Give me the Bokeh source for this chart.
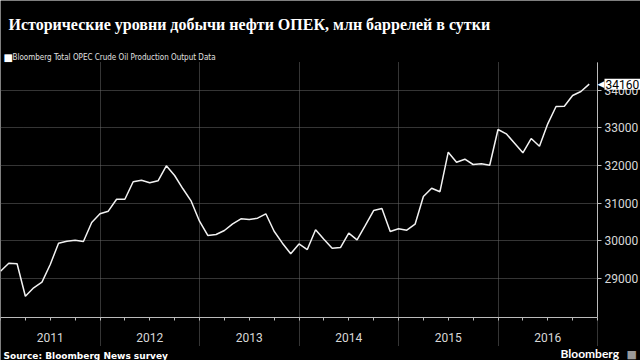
import numpy as np
from bokeh.plotting import figure
from bokeh.models import Range1d, FixedTicker, Label
from bokeh.embed import file_html
from bokeh.resources import INLINE

# ---- data (monthly, Jan 2011 .. Dec 2016), thousand barrels per day ----
years = [2011, 2012, 2013, 2014, 2015, 2016]
prod_2011 = [29186, 29399, 29383, 28521, 28745, 28894, 29364, 29931, 29984, 30011, 29976, 30481]
prod_2012 = [30712, 30782, 31101, 31101, 31564, 31606, 31540, 31590, 31989, 31731, 31378, 31048]
prod_2013 = [30516, 30136, 30162, 30269, 30447, 30580, 30561, 30596, 30713, 30250, 29931, 29649]
prod_2014 = [29910, 29763, 30287, 30037, 29798, 29816, 30197, 30021, 30402, 30800, 30854, 30242]
prod_2015 = [30314, 30277, 30436, 31173, 31394, 31300, 32351, 32085, 32165, 32024, 32043, 32005]
prod_2016 = [32955, 32840, 32590, 32335, 32715, 32511, 33106, 33566, 33574, 33859, 33965, 34160]
y_ticks = [29000, 30000, 31000, 32000, 33000, 34000]

values = prod_2011 + prod_2012 + prod_2013 + prod_2014 + prod_2015 + prod_2016
months = np.arange(len(values))          # month index since Jan 2011
last_value = values[-1]

title_text = "Исторические уровни добычи нефти ОПЕК, млн баррелей в сутки"
legend_text = "Bloomberg Total OPEC Crude Oil Production Output Data"
source_text = "Source: Bloomberg News survey"

# ---- geometry: the frame covers the whole canvas, axes sit at fixed locations ----
W, H = 640, 360
n_months = 12 * len(years)
data_right_px = 597
px_per_month = data_right_px / n_months
px_per_unit = 37.6 / 1000.0
y_34000_px = 89.7
y_top = 34000 + y_34000_px / px_per_unit
y_bot = 34000 - (H - y_34000_px) / px_per_unit
area_top = 34000 + (y_34000_px - 62) / px_per_unit      # top of the data area
area_bottom = 34000 - (345 - y_34000_px) / px_per_unit  # bottom of the year separators
axis_level = 34000 - (316.7 - y_34000_px) / px_per_unit # x axis line

p = figure(width=W, height=H,
           x_range=Range1d(0, W / px_per_month), y_range=Range1d(y_bot, y_top),
           y_axis_location="right",
           output_backend="svg", toolbar_location=None,
           background_fill_color="black", border_fill_color="black",
           outline_line_color=None,
           min_border_left=0, min_border_right=0,
           min_border_top=0, min_border_bottom=0)

# grids
year_bounds = [12 * i for i in range(len(years) + 1)]
p.xgrid.ticker = FixedTicker(ticks=year_bounds)
p.xgrid.cross_bounds = (area_bottom, area_top)
p.xgrid.grid_line_color = "#6a6a6a"
p.xgrid.grid_line_dash = "1 1"
p.ygrid.ticker = FixedTicker(ticks=y_ticks)
p.ygrid.cross_bounds = (0, n_months)
p.ygrid.grid_line_color = "#6a6a6a"
p.ygrid.grid_line_dash = "1 1"

# x axis (year labels mid-year)
xa = p.xaxis[0]
xa.fixed_location = axis_level
xa.bounds = (0, n_months)
mid_years = [12 * i + 6 for i in range(len(years))]
xa.ticker = FixedTicker(ticks=mid_years, minor_ticks=[3 * i for i in range(4 * len(years) + 1)])
xa.major_label_overrides = {m: str(y) for m, y in zip(mid_years, years)}
xa.major_tick_out = 0
xa.major_tick_in = 0
xa.minor_tick_out = 3
xa.minor_tick_in = 0
xa.minor_tick_line_color = "#bbbbbb"
xa.axis_line_color = "#bbbbbb"
xa.major_label_text_color = "#d8d8d8"
xa.major_label_text_font = "Roboto"
xa.major_label_text_font_size = "12px"
xa.major_label_standoff = 13

# y axis on the right edge of the data area
ya = p.yaxis[0]
ya.fixed_location = n_months
ya.bounds = (axis_level, area_top)
ya.ticker = FixedTicker(ticks=y_ticks)
ya.major_tick_out = 4
ya.major_tick_in = 0
ya.minor_tick_out = 0
ya.minor_tick_in = 0
ya.axis_line_color = "#bbbbbb"
ya.major_tick_line_color = "#bbbbbb"
ya.major_label_text_color = "#d8d8d8"
ya.major_label_text_font = "Roboto"
ya.major_label_text_font_size = "12px"
ya.major_label_standoff = 3
ya.formatter.use_scientific = False

# series
p.line(months, values, line_color="#f2f2f2", line_width=1.5)

# last value callout
p.add_layout(Label(x=597, y=last_value, x_units="screen", y_units="data",
                   text="◀", text_color="white", text_font_size="9px",
                   text_baseline="middle", text_align="left", text_font="DejaVu Sans"))
p.add_layout(Label(x=604, y=last_value, x_units="screen", y_units="data",
                   text=str(last_value), text_color="black", text_font="Roboto",
                   text_font_size="12px", text_baseline="middle", text_align="left",
                   background_fill_color="white", padding=1))

# title, legend, source, brand (screen y measured from the bottom)
p.add_layout(Label(x=8, y=H - 23.5, x_units="screen", y_units="screen",
                   text=title_text, text_color="white", text_font="Liberation Serif",
                   text_font_style="bold", text_font_size="16px",
                   text_baseline="alphabetic", text_align="left"))
p.add_layout(Label(x=3, y=H - 57, x_units="screen", y_units="screen",
                   text="■", text_color="white", text_font="DejaVu Sans",
                   text_font_size="10px", text_baseline="alphabetic", text_align="left"))
p.add_layout(Label(x=12, y=H - 57, x_units="screen", y_units="screen",
                   text=legend_text, text_color="#e0e0e0",
                   text_font="'DejaVu Sans Condensed', Roboto",
                   text_font_size="8px", text_baseline="alphabetic", text_align="left"))
p.add_layout(Label(x=3, y=H - 355, x_units="screen", y_units="screen",
                   text=source_text, text_color="white", text_font="DejaVu Sans",
                   text_font_style="bold", text_font_size="9px",
                   text_baseline="alphabetic", text_align="left"))
p.add_layout(Label(x=560, y=H - 353, x_units="screen", y_units="screen",
                   text="Bloomberg", text_color="white", text_font="Lato",
                   text_font_style="bold", text_font_size="12px",
                   text_baseline="alphabetic", text_align="left"))
p.add_layout(Label(x=626, y=H - 354, x_units="screen", y_units="screen",
                   text="■", text_color="#9a9a9a", text_font="DejaVu Sans",
                   text_font_size="11px", text_baseline="alphabetic", text_align="left"))

open("out.html", "w").write(file_html(p, INLINE))
